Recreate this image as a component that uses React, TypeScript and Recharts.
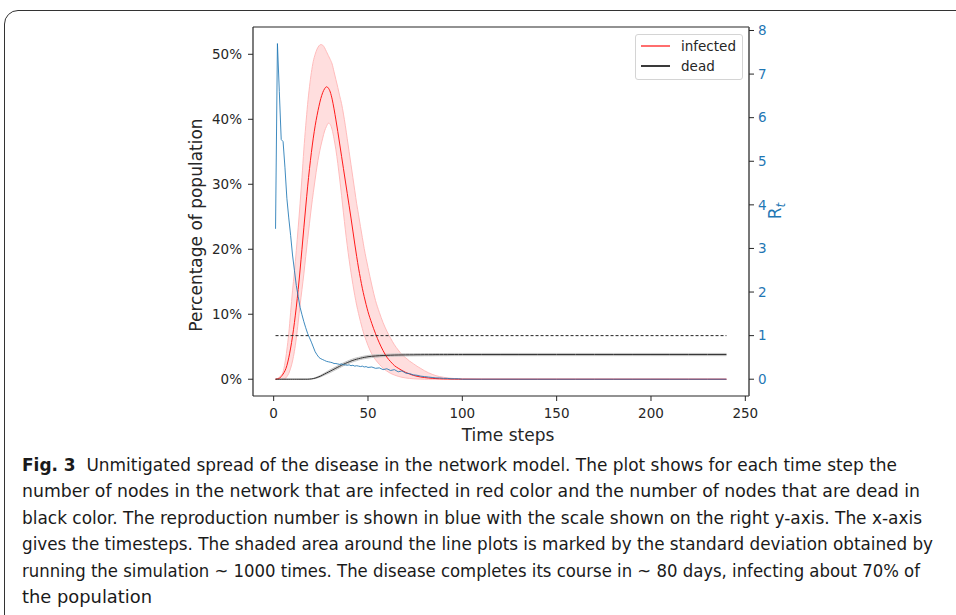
import {
  Area,
  ComposedChart,
  Line,
  ReferenceLine,
  XAxis,
  YAxis,
} from "recharts"

// time steps (dense where things move, sparse on the flat tail)
const timeSteps = [
  1, 2, 3, 4, 5, 6, 7, 8, 9, 10,
  11, 12, 13, 14, 15, 16, 17, 18, 19, 20,
  21, 22, 23, 24, 25, 26, 27, 28, 29, 30,
  31, 32, 33, 34, 35, 36, 37, 38, 39, 40,
  41, 42, 43, 44, 45, 46, 47, 48, 49, 50,
  52, 54, 56, 58, 60, 62, 64, 66, 68, 70,
  72, 74, 76, 78, 80, 82, 84, 86, 88, 90,
  92, 94, 96, 98, 100,
  110, 120, 130, 140, 150, 160, 170, 180, 190, 200, 210, 220, 230, 240,
]

// % of population infected (mean, lower and upper edge of the shaded band)
const infected = [
  0, 0.05, 0.15, 0.4, 0.8, 1.3, 2.1, 3.3, 4.8, 6.6,
  8.7, 11.1, 13.8, 16.8, 20, 23.3, 26.5, 29.6, 32.4, 34.9,
  37.1, 39, 40.6, 42, 43.2, 44.1, 44.7, 45, 44.8, 44.2,
  43.1, 41.6, 39.9, 38.1, 36.2, 34.3, 32.4, 30.5, 28.6, 26.7,
  24.8, 22.8, 20.8, 18.9, 17.1, 15.5, 14.0, 12.7, 11.5, 10.4,
  8.6, 7.0, 5.6, 4.4, 3.4, 2.7, 2.1, 1.7, 1.35, 1.05,
  0.8, 0.6, 0.45, 0.34, 0.26, 0.19, 0.14, 0.1, 0.07, 0.05,
  0.04, 0.03, 0.02, 0.01, 0.01,
  0, 0, 0, 0, 0, 0, 0, 0, 0, 0, 0, 0, 0, 0,
]
const infectedLow = [
  0, 0, 0, 0, 0.05, 0.1, 0.4, 0.9, 1.7, 2.8,
  4.3, 6.3, 8.8, 11.4, 13.8, 16.2, 18.9, 21.5, 24, 26.5,
  28.7, 30.8, 32.8, 34.5, 35.9, 37.1, 38.2, 38.9, 39.4, 39.2,
  38.4, 37, 35.3, 33.2, 30.8, 28.3, 25.6, 23, 20.6, 18.4,
  16.4, 14.6, 12.9, 11.4, 10.1, 8.9, 7.8, 6.8, 6.0, 5.2,
  3.9, 3.0, 2.3, 1.7, 1.25, 0.9, 0.65, 0.45, 0.3, 0.2,
  0.12, 0.07, 0.04, 0.02, 0, 0, 0, 0, 0, 0,
  0, 0, 0, 0, 0,
  0, 0, 0, 0, 0, 0, 0, 0, 0, 0, 0, 0, 0, 0,
]
const infectedHigh = [
  0, 0.1, 0.3, 0.6, 1.1, 2.5, 4.5, 7, 10.3, 13.6,
  16.5, 19.8, 23.3, 27, 31, 35.3, 39, 42.3, 45, 47.2,
  48.9, 50, 50.8, 51.3, 51.5, 51.4, 51, 50.4, 49.8, 49.2,
  48.5, 47.3, 46.1, 44.9, 43.6, 42.4, 40.8, 39, 37, 35,
  33, 31, 29, 27, 25.3, 23.5, 21.8, 20.1, 18.6, 17.2,
  14.5, 12.1, 10.3, 8.7, 7.4, 6.3, 5.3, 4.5, 3.8, 3.3,
  2.8, 2.4, 2.0, 1.65, 1.3, 1.0, 0.75, 0.55, 0.4, 0.3,
  0.2, 0.15, 0.1, 0.05, 0.03,
  0, 0, 0, 0, 0, 0, 0, 0, 0, 0, 0, 0, 0, 0,
]

// % of population dead (mean and std)
const dead = [
  0, 0, 0, 0, 0, 0, 0, 0, 0, 0,
  0, 0, 0, 0, 0, 0, 0, 0, 0.02, 0.05,
  0.1, 0.17, 0.27, 0.38, 0.5, 0.65, 0.8, 0.95, 1.1, 1.25,
  1.4, 1.55, 1.7, 1.85, 2.0, 2.15, 2.3, 2.43, 2.56, 2.68,
  2.8, 2.9, 3.0, 3.08, 3.16, 3.23, 3.3, 3.36, 3.41, 3.46,
  3.53, 3.58, 3.62, 3.65, 3.68, 3.7, 3.72, 3.73, 3.74, 3.75,
  3.76, 3.76, 3.77, 3.77, 3.78, 3.78, 3.78, 3.79, 3.79, 3.79,
  3.79, 3.8, 3.8, 3.8, 3.8,
  3.8, 3.8, 3.8, 3.8, 3.8, 3.8, 3.8, 3.8, 3.8, 3.8, 3.8, 3.8, 3.8, 3.8,
]
const deadStd = [
  0, 0, 0, 0, 0, 0, 0, 0, 0, 0,
  0, 0, 0, 0, 0, 0, 0, 0, 0.01, 0.02,
  0.04, 0.06, 0.08, 0.1, 0.12, 0.14, 0.16, 0.18, 0.2, 0.22,
  0.22, 0.22, 0.22, 0.22, 0.22, 0.22, 0.22, 0.22, 0.22, 0.22,
  0.22, 0.22, 0.22, 0.22, 0.2, 0.2, 0.2, 0.2, 0.2, 0.2,
  0.19, 0.19, 0.18, 0.18, 0.18, 0.17, 0.17, 0.17, 0.17, 0.17,
  0.17, 0.17, 0.17, 0.17, 0.17, 0.17, 0.17, 0.17, 0.17, 0.17,
  0.17, 0.17, 0.17, 0.17, 0.17,
  0.17, 0.17, 0.17, 0.17, 0.17, 0.17, 0.17, 0.17, 0.17, 0.17, 0.17, 0.17, 0.17, 0.17,
]

// reproduction number R_t (right axis)
const rt = [
  3.45, 7.7, 6.6, 5.5, 5.45, 4.85, 4.15, 3.7, 3.3, 2.85,
  2.5, 2.15, 1.9, 1.65, 1.48, 1.32, 1.18, 1.05, 0.95, 0.85,
  0.74, 0.63, 0.56, 0.5, 0.47, 0.45, 0.43, 0.41, 0.4, 0.39,
  0.38, 0.36, 0.36, 0.35, 0.34, 0.35, 0.33, 0.33, 0.32, 0.33,
  0.31, 0.32, 0.3, 0.31, 0.3, 0.29, 0.3, 0.28, 0.29, 0.27,
  0.28, 0.25, 0.26, 0.22, 0.24, 0.2, 0.22, 0.17, 0.19, 0.14,
  0.13, 0.1, 0.09, 0.07, 0.06, 0.05, 0.04, 0.03, 0.03, 0.02,
  0.02, 0.01, 0.01, 0.01, 0,
  0, 0, 0, 0, 0, 0, 0, 0, 0, 0, 0, 0, 0, 0,
]

const xTicks = [0, 50, 100, 150, 200, 250]
const pctTicks = [0, 10, 20, 30, 40, 50]
const rtTicks = [0, 1, 2, 3, 4, 5, 6, 7, 8]
const rtThreshold = 1

const legendItems = [
  { name: "infected", color: "#ff6e6e" },
  { name: "dead", color: "#3a3a3a" },
]

const captionLines = [
  { bold: "Fig. 3", text: "  Unmitigated spread of the disease in the network model. The plot shows for each time step the", width: 875 },
  { text: "number of nodes in the network that are infected in red color and the number of nodes that are dead in", width: 898 },
  { text: "black color. The reproduction number is shown in blue with the scale shown on the right y-axis. The x-axis", width: 900 },
  { text: "gives the timesteps. The shaded area around the line plots is marked by the standard deviation obtained by", width: 911 },
  { text: "running the simulation ~ 1000 times. The disease completes its course in ~ 80 days, infecting about 70% of", width: 898 },
  { text: "the population", width: 130 },
]

const rows = timeSteps.map((t, i) => ({
  t,
  infected: infected[i],
  infBand: [infectedLow[i], infectedHigh[i]],
  dead: dead[i],
  deadBand: [dead[i] - deadStd[i], dead[i] + deadStd[i]],
  rt: rt[i],
}))

const FONT = "'DejaVu Sans', sans-serif"
const INK = "#262626"
const BLUE = "#1f77b4"
const X_DOMAIN: [number, number] = [-10.95, 251.95]

export default function App() {
  return (
    <div
      style={{
        position: "absolute",
        left: 0,
        top: 0,
        width: 956,
        height: 615,
        overflow: "hidden",
        background: "#fff",
      }}
    >
      {/* figure frame */}
      <div
        style={{
          position: "absolute",
          left: 4,
          top: 10,
          width: 1000,
          height: 700,
          border: "1.5px solid #333",
          borderRadius: 14,
        }}
      />

      <div style={{ position: "absolute", left: 0, top: 0 }}>
        <ComposedChart
          width={956}
          height={450}
          data={rows}
          margin={{ top: 26, right: 157, bottom: 14, left: 193 }}
        >
          <XAxis
            dataKey="t"
            type="number"
            domain={X_DOMAIN}
            allowDataOverflow
            ticks={xTicks}
            height={40}
            tickSize={5}
            tickMargin={7}
            tick={{ fill: INK, fontSize: 13.5, fontFamily: FONT }}
            axisLine={{ stroke: INK, strokeWidth: 1.2 }}
            tickLine={{ stroke: INK }}
          />
          {/* top spine */}
          <XAxis
            xAxisId="top"
            dataKey="t"
            type="number"
            orientation="top"
            domain={X_DOMAIN}
            allowDataOverflow
            height={1}
            ticks={xTicks}
            tick={false}
            tickLine={false}
            axisLine={{ stroke: INK, strokeWidth: 1.2 }}
          />
          <YAxis
            yAxisId="left"
            type="number"
            domain={[-2.58, 54.2]}
            allowDataOverflow
            ticks={pctTicks}
            tickFormatter={(v) => `${v}%`}
            width={60}
            tickSize={5}
            tickMargin={6}
            tick={{ fill: INK, fontSize: 13.5, fontFamily: FONT }}
            axisLine={{ stroke: INK, strokeWidth: 1.2 }}
            tickLine={{ stroke: INK }}
          />
          <YAxis
            yAxisId="right"
            orientation="right"
            type="number"
            domain={[-0.385, 8.08]}
            allowDataOverflow
            ticks={rtTicks}
            width={50}
            tickSize={5}
            tickMargin={4}
            tick={{ fill: BLUE, fontSize: 13.5, fontFamily: FONT }}
            axisLine={{ stroke: "#555", strokeWidth: 1.6 }}
            tickLine={{ stroke: INK }}
          />

          <Area
            yAxisId="left"
            dataKey="infBand"
            type="monotone"
            stroke="#ffbcbc"
            strokeWidth={1}
            fill="#ff0000"
            fillOpacity={0.13}
            dot={false}
            activeDot={false}
            isAnimationActive={false}
          />
          <Area
            yAxisId="left"
            dataKey="deadBand"
            type="monotone"
            stroke="#c4c4c4"
            strokeWidth={1}
            fill="#000"
            fillOpacity={0.14}
            dot={false}
            activeDot={false}
            isAnimationActive={false}
          />
          <Line
            yAxisId="left"
            dataKey="infected"
            type="monotone"
            stroke="#ff1a1a"
            strokeWidth={1}
            dot={false}
            activeDot={false}
            isAnimationActive={false}
          />
          <Line
            yAxisId="left"
            dataKey="dead"
            type="monotone"
            stroke="#333"
            strokeWidth={1}
            dot={false}
            activeDot={false}
            isAnimationActive={false}
          />
          <ReferenceLine
            yAxisId="right"
            segment={[
              { x: timeSteps[0], y: rtThreshold },
              { x: timeSteps[timeSteps.length - 1], y: rtThreshold },
            ]}
            stroke="#222"
            strokeWidth={1}
            strokeDasharray="3 2"
          />
          <Line
            yAxisId="right"
            dataKey="rt"
            type="linear"
            stroke={BLUE}
            strokeWidth={1}
            strokeOpacity={0.85}
            dot={false}
            activeDot={false}
            isAnimationActive={false}
          />
        </ComposedChart>
      </div>

      {/* axis titles */}
      <div
        style={{
          position: "absolute",
          left: 196,
          top: 225,
          transform: "translate(-50%, -50%) rotate(-90deg)",
          whiteSpace: "nowrap",
          fontFamily: FONT,
          fontSize: 17,
          lineHeight: "20px",
          color: INK,
        }}
      >
        Percentage of population
      </div>
      <div
        style={{
          position: "absolute",
          left: 508,
          top: 425,
          transform: "translateX(-50%)",
          whiteSpace: "nowrap",
          fontFamily: FONT,
          fontSize: 17,
          lineHeight: "20px",
          color: INK,
        }}
      >
        Time steps
      </div>
      <div
        style={{
          position: "absolute",
          left: 778,
          top: 211,
          transform: "translate(-50%, -50%) rotate(-90deg)",
          whiteSpace: "nowrap",
          fontFamily: FONT,
          fontSize: 17,
          lineHeight: "20px",
          color: BLUE,
        }}
      >
        R<sub style={{ fontSize: 12, verticalAlign: "-4px", fontStyle: "italic" }}>t</sub>
      </div>

      {/* legend */}
      <div
        style={{
          position: "absolute",
          left: 635,
          top: 34,
          width: 106,
          height: 44,
          border: "1px solid #d4d4d4",
          borderRadius: 3,
          background: "rgba(255,255,255,0.85)",
          fontFamily: FONT,
          fontSize: 13.5,
          color: INK,
        }}
      >
        {legendItems.map((item, i) => (
          <div
            key={item.name}
            style={{
              position: "absolute",
              left: 0,
              top: 1 + i * 20,
              height: 20,
              display: "flex",
              alignItems: "center",
            }}
          >
            <span
              style={{
                display: "inline-block",
                marginLeft: 5,
                width: 29,
                height: 1.5,
                background: item.color,
              }}
            />
            <span style={{ marginLeft: 11 }}>{item.name}</span>
          </div>
        ))}
      </div>

      {/* caption */}
      <svg
        width={956}
        height={175}
        style={{ position: "absolute", left: 0, top: 440 }}
      >
        {captionLines.map((line, i) => (
          <text
            key={i}
            x={22}
            y={31 + i * 26.4}
            textLength={line.width}
            lengthAdjust="spacingAndGlyphs"
            style={{
              fontFamily:
                "'Liberation Sans Narrow', 'DejaVu Sans Condensed', 'Open Sans', sans-serif",
              fontSize: 18.5,
              fill: "#1a1a1a",
            }}
          >
            {line.bold && <tspan fontWeight="bold">{line.bold}</tspan>}
            <tspan style={{ whiteSpace: "pre" }}>{line.text}</tspan>
          </text>
        ))}
      </svg>
    </div>
  )
}
